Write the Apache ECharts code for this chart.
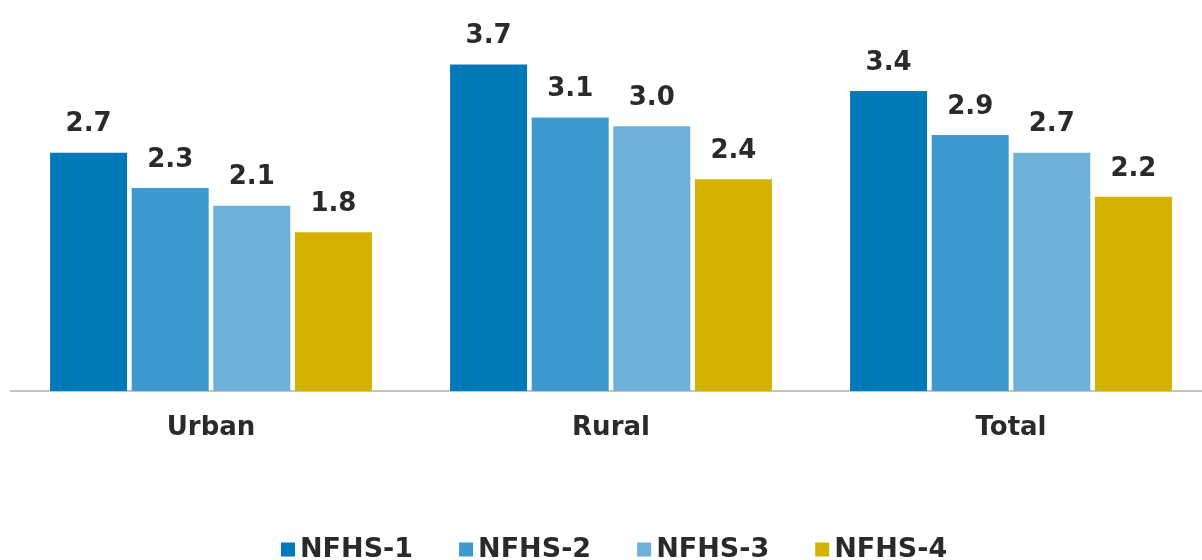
<!DOCTYPE html>
<html>
<head>
<meta charset="utf-8">
<script src="https://cdn.jsdelivr.net/npm/echarts@6/dist/echarts.min.js"></script>
<style>html,body{margin:0;padding:0;background:#fff}#c{width:1202px;height:560px}</style>
</head>
<body>
<div id="c"></div>
<script>
const categories = ['Urban', 'Rural', 'Total'];
const seriesNames = ['NFHS-1', 'NFHS-2', 'NFHS-3', 'NFHS-4'];
const nfhs1 = [2.7, 3.7, 3.4];
const nfhs2 = [2.3, 3.1, 2.9];
const nfhs3 = [2.1, 3.0, 2.7];
const nfhs4 = [1.8, 2.4, 2.2];
const colors = ['#0079B9', '#3D99CE', '#6DB1D8', '#D6B200'];
const values = [nfhs1, nfhs2, nfhs3, nfhs4];
const FONT = 'DejaVu Sans';

const chart = echarts.init(document.getElementById('c'));
chart.setOption({
  animation: false,
  color: colors,
  grid: { left: 11, right: -9, top: 38, bottom: 169, outerBoundsMode: 'none', containLabel: false },
  legend: {
    top: 531,
    left: 276,
    itemWidth: 14,
    itemHeight: 14,
    itemGap: 46,
    icon: 'rect',
    textStyle: { fontFamily: FONT, fontWeight: 'bold', fontSize: 27, color: '#2a2a2a' },
    data: seriesNames
  },
  xAxis: {
    type: 'category',
    data: categories,
    axisLine: { lineStyle: { color: '#c4c4c4', width: 2 } },
    axisTick: { show: false },
    axisLabel: { margin: 24, fontFamily: FONT, fontWeight: 'bold', fontSize: 26, color: '#2a2a2a' }
  },
  yAxis: {
    type: 'value', min: 0, max: 4, show: false,
    splitLine: { show: false }
  },
  series: seriesNames.map((n, i) => ({
    name: n,
    type: 'bar',
    data: values[i],
    barWidth: 77,
    barGap: '6%',
    label: {
      show: true, position: 'top', distance: 15,
      formatter: p => p.value.toFixed(1),
      fontFamily: FONT, fontWeight: 'bold', fontSize: 26, color: '#2a2a2a'
    }
  }))
});
</script>
</body>
</html>
